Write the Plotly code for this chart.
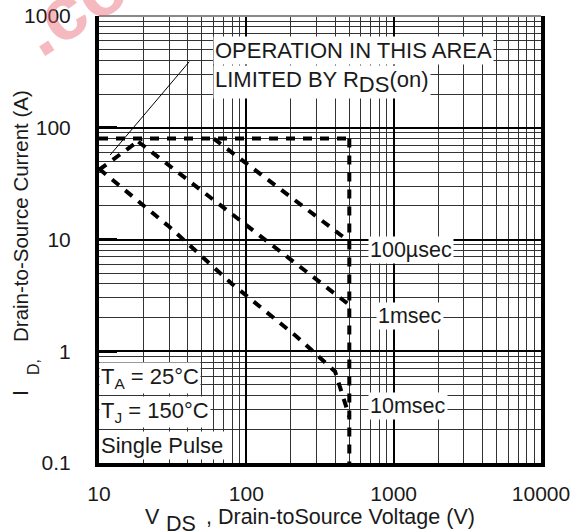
import plotly.graph_objects as go

FONT = "Liberation Sans, Arial, Helvetica, sans-serif"
INK = "#1a1a1a"

# Safe operating area boundaries: V_DS in volts, I_D in amps
rds_v = [10, 19.5]
rds_i = [42, 80]
id_max_v = [10, 500]
id_max_i = [80, 80]
pulse_100us_v = [60, 500]
pulse_100us_i = [80, 9.6]
pulse_1ms_v = [18.5, 500]
pulse_1ms_i = [75, 2.6]
pulse_10ms_v = [10, 30, 80, 220, 400, 500]
pulse_10ms_i = [43, 13, 4.0, 1.35, 0.66, 0.26]
vdss_v = [500, 500]
vdss_i = [80, 0.1]

# leader from the R_DS(on) note down to the limit line
pointer_v = [11.9, 41]
pointer_i = [57, 390]

x_tickvals = [10, 100, 1000, 10000]
x_ticktext = ["10", "100", "1000", "10000"]
y_tickvals = [0.1, 1, 10, 100, 1000]
y_ticktext = ["0.1", "1", "10", "100", "1000"]

W, H = 584, 532
L, R, T, B = 99, 43, 16, 69


def px(x):
    return (x - L) / (W - L - R)


def py(y):
    return 1 - (y - T) / (H - T - B)


fig = go.Figure()

dash_line = dict(color="black", width=4, dash="9px,8px")
for v, i in [
    (rds_v, rds_i),
    (id_max_v, id_max_i),
    (pulse_100us_v, pulse_100us_i),
    (pulse_1ms_v, pulse_1ms_i),
    (pulse_10ms_v, pulse_10ms_i),
    (vdss_v, vdss_i),
]:
    fig.add_trace(go.Scatter(x=v, y=i, mode="lines", line=dash_line,
                             hoverinfo="skip", showlegend=False))

fig.add_trace(go.Scatter(x=pointer_v, y=pointer_i, mode="lines",
                         line=dict(color="black", width=1),
                         hoverinfo="skip", showlegend=False))

ann = []


def note(text, x, y, xanchor="center", size=21.5, bg="white", angle=0, color=INK):
    ann.append(dict(text=text, x=px(x), y=py(y), xref="paper", yref="paper",
                    xanchor=xanchor, yanchor="middle", showarrow=False,
                    textangle=angle, bgcolor=bg, borderpad=1,
                    font=dict(family=FONT, size=size, color=color)))


SUBFULL = "<sub><span style='font-size:22px'>{}</span></sub>"

note("OPERATION IN THIS AREA", 213, 51, xanchor="left", size=22)
note("LIMITED BY R" + SUBFULL.format("DS") + "(on)", 213, 82, xanchor="left", size=22)

note("100µsec", 411, 250)
note("1msec", 410, 316)
note("10msec", 408, 406)

note("T<sub>A</sub> = 25°C", 99, 378, xanchor="left", size=22)
note("T<sub>J</sub> = 150°C", 99, 412, xanchor="left", size=22)
note("Single Pulse", 99, 445, xanchor="left", size=22)

# axis titles, built from pieces so the subscripts stay full height
note("V", 152, 517, bg=None)
note("DS", 181, 524, bg=None)
note(", Drain-toSource Voltage (V)", 204, 517, xanchor="left", bg=None)

note("I", 21, 393, angle=-90, bg=None)
note("D,", 33, 367, angle=-90, size=16, bg=None)
note("Drain-to-Source Current (A)", 20, 216, angle=-90, size=20.5, bg=None)

# source stamp in the corner
ann.append(dict(text="<b>.co</b>", x=px(73), y=py(7), xref="paper", yref="paper",
                xanchor="center", yanchor="middle",
                showarrow=False, textangle=-33,
                font=dict(family=FONT, size=76, color="rgba(232,90,105,0.42)")))

fig.update_layout(
    width=W, height=H,
    margin=dict(l=L, r=R, t=T, b=B, pad=0, autoexpand=False),
    paper_bgcolor="white", plot_bgcolor="white",
    showlegend=False,
    annotations=ann,
    shapes=[dict(type="line", xref="paper", yref="paper", x0=0, x1=1, y0=1, y1=1,
                 line=dict(color="#8a8a8a", width=2))],
    font=dict(family=FONT, size=21, color=INK),
)

fig.update_xaxes(
    type="log", range=[1, 4],
    tickmode="array", tickvals=x_tickvals, ticktext=x_ticktext,
    ticks="", ticklabelstandoff=9,
    showline=True, linewidth=4, linecolor="black", mirror=False,
    showgrid=True, gridcolor="black", gridwidth=2,
    minor=dict(dtick="D1", showgrid=True, gridcolor="#333333", gridwidth=1, ticks=""),
    tickfont=dict(family=FONT, size=21, color=INK),
    zeroline=False,
)
fig.update_yaxes(
    type="log", range=[-1, 3],
    tickmode="array", tickvals=y_tickvals, ticktext=y_ticktext,
    ticks="inside", ticklen=18, tickwidth=2.5, tickcolor="black",
    ticklabelstandoff=20,
    showline=True, linewidth=4, linecolor="black", mirror=True,
    showgrid=True, gridcolor="black", gridwidth=2,
    minor=dict(dtick="D1", showgrid=True, gridcolor="#333333", gridwidth=1, ticks=""),
    tickfont=dict(family=FONT, size=21, color=INK),
    zeroline=False,
)

fig.write_html("out.html")
